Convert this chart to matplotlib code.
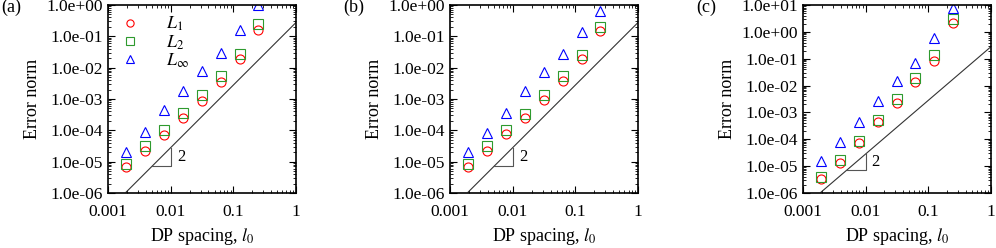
import matplotlib
matplotlib.use("Agg")
import matplotlib.pyplot as plt
from matplotlib.ticker import LogLocator, FixedLocator, NullFormatter, FuncFormatter

plt.rcParams['font.family'] = ['Liberation Serif', 'DejaVu Serif']
plt.rcParams['mathtext.fontset'] = 'stix'

# DP spacing
l0 = [0.001953, 0.003906, 0.007813, 0.015625, 0.03125, 0.0625, 0.125, 0.25]

# panel (a)
a_L1 = [6.6e-6, 2.2e-5, 7.2e-5, 2.4e-4, 8.9e-4, 3.5e-3, 1.95e-2, 0.16]
a_L2 = [8.7e-6, 3.1e-5, 1.0e-4, 3.5e-4, 1.35e-3, 5.5e-3, 2.75e-2, 0.24]
a_Linf = [2.1e-5, 8.5e-5, 4.3e-4, 1.74e-3, 7.7e-3, 3.0e-2, 0.16, 1.0]

# panel (b)
b_L1 = [6.6e-6, 2.2e-5, 7.5e-5, 2.5e-4, 9.0e-4, 3.7e-3, 1.9e-2, 0.15]
b_L2 = [8.7e-6, 3.2e-5, 1.0e-4, 3.4e-4, 1.36e-3, 5.6e-3, 2.6e-2, 0.20]
b_Linf = [2.0e-5, 8.2e-5, 3.5e-4, 1.8e-3, 7.2e-3, 2.8e-2, 0.135, 0.66]

# panel (c)
c_L1 = [3.2e-6, 1.3e-5, 7.2e-5, 4.4e-4, 2.3e-3, 1.4e-2, 0.085, 2.2]
c_L2 = [3.8e-6, 1.7e-5, 8.3e-5, 5.2e-4, 3.1e-3, 1.9e-2, 0.14, 3.0]
c_Linf = [1.5e-5, 7.6e-5, 4.5e-4, 2.6e-3, 1.45e-2, 6.8e-2, 0.61, 7.6]

# second order reference line and slope triangle
ref_x = [0.00195, 1.0]
ref_c = 0.28
tri_x = [0.005, 0.01]

panels = [
    ("(a)", a_L1, a_L2, a_Linf, 1e0, [1e-6, 1e-5, 1e-4, 1e-3, 1e-2, 1e-1, 1e0]),
    ("(b)", b_L1, b_L2, b_Linf, 1e0, [1e-6, 1e-5, 1e-4, 1e-3, 1e-2, 1e-1, 1e0]),
    ("(c)", c_L1, c_L2, c_Linf, 1e1, [1e-6, 1e-5, 1e-4, 1e-3, 1e-2, 1e-1, 1e0, 1e1]),
]
lefts = [0.1084, 0.4518, 0.806]

fig = plt.figure(figsize=(9.96, 2.48), dpi=100)

for i, (tag, L1, L2, Linf, ytop, yticks) in enumerate(panels):
    ax = fig.add_axes([lefts[i], 0.222, 0.189, 0.758])
    ax.set_xscale('log')
    ax.set_yscale('log')
    ax.plot(l0, L1, 'o', ms=6.5, mfc='none', mec='#ff0000', mew=0.8, label=r'$L_1$')
    ax.plot(l0, L2, 's', ms=6.5, mfc='none', mec='#2e9a2e', mew=0.8, label=r'$L_2$')
    ax.plot(l0, Linf, '^', ms=6.5, mfc='none', mec='#0000ff', mew=0.8, label=r'$L_\infty$')

    ry = [ref_c * x**2 for x in ref_x]
    ax.plot(ref_x, ry, '-', color='#333333', lw=0.8)
    ty = [ref_c * x**2 for x in tri_x]
    ax.plot([tri_x[0], tri_x[1], tri_x[1]], [ty[0], ty[0], ty[1]], '-', color='#555555', lw=0.8)
    ax.text(tri_x[1] * 1.25, (ty[0] * ty[1]) ** 0.5, '2', fontsize=12, va='center', ha='left')

    ax.set_xlim(0.001, 1)
    ax.set_ylim(1e-6, ytop)
    ax.xaxis.set_major_locator(FixedLocator([0.001, 0.01, 0.1, 1]))
    ax.xaxis.set_major_formatter(FuncFormatter(lambda v, p: '%g' % v))
    ax.yaxis.set_major_locator(FixedLocator(yticks))
    ax.yaxis.set_major_formatter(FuncFormatter(lambda v, p: '%.1e' % v))
    ax.xaxis.set_minor_locator(LogLocator(base=10, subs=range(2, 10), numticks=20))
    ax.yaxis.set_minor_locator(LogLocator(base=10, subs=range(2, 10), numticks=20))
    ax.xaxis.set_minor_formatter(NullFormatter())
    ax.yaxis.set_minor_formatter(NullFormatter())
    ax.tick_params(which='both', direction='in', top=True, right=True, labelsize=12.5)
    ax.tick_params(which='major', length=5, width=0.8)
    ax.tick_params(which='minor', length=2.5, width=0.6)
    ax.tick_params(axis='x', pad=8)
    for s in ax.spines.values():
        s.set_linewidth(1.2)

    ax.set_ylabel('Error norm', fontsize=13)
    ax.set_xlabel(r'DP spacing, $l_0$', fontsize=13, labelpad=4)
    fig.text(lefts[i] - 0.107, 0.95, tag, fontsize=13)

    if i == 0:
        ax.legend(loc='upper left', bbox_to_anchor=(0.04, 0.985), frameon=False,
                  fontsize=13, markerscale=0.8, handlelength=0.8, handletextpad=1.6,
                  labelspacing=0.0, borderaxespad=0.0)

fig.savefig('out.png', dpi=100)
